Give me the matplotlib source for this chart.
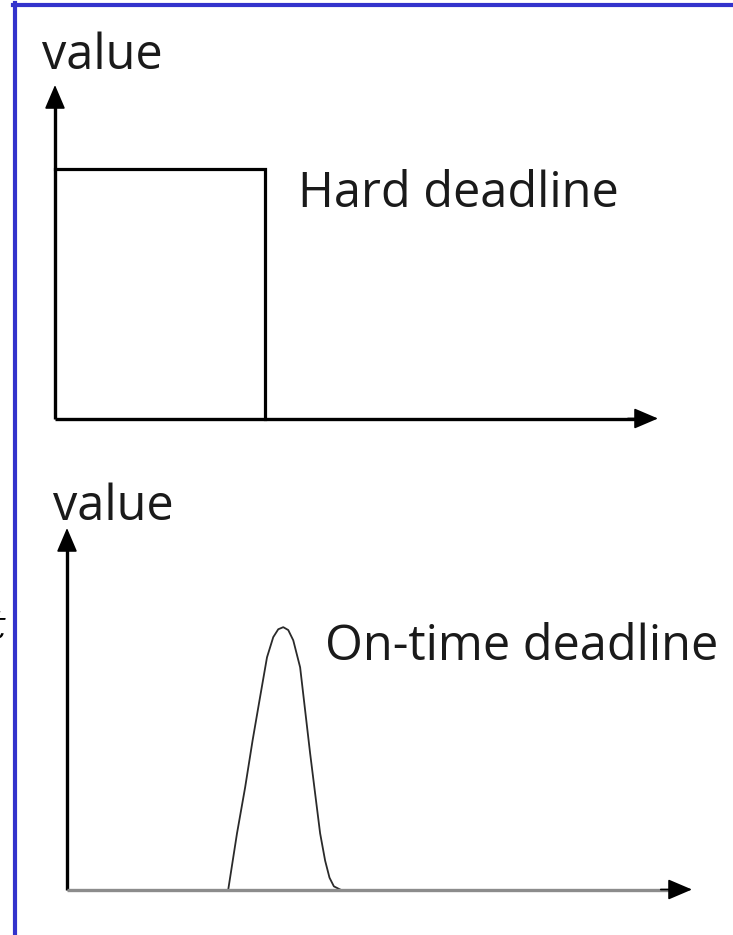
import matplotlib
matplotlib.use("Agg")
import matplotlib.pyplot as plt
from matplotlib.lines import Line2D

# hard deadline: full value until the deadline, then nothing
hard_time = [0.0, 3.48, 3.48]
hard_value = [1.0, 1.0, 0.0]

# on-time deadline: value peaks around the deadline
ontime_time = [2.58, 2.72, 2.85, 2.97, 3.08, 3.20, 3.30, 3.38, 3.46,
               3.54, 3.62, 3.73, 3.81, 3.89, 3.97, 4.05, 4.13, 4.20, 4.27, 4.37]
ontime_value = [0.0, 0.214, 0.389, 0.569, 0.721, 0.885, 0.962, 0.992, 1.0,
                0.989, 0.950, 0.847, 0.683, 0.519, 0.366, 0.214, 0.11, 0.045, 0.012, 0.0]

labels_top = ["value", "Hard deadline"]
labels_bottom = ["value", "On-time deadline"]

W, H = 733, 935
font = "Open Sans"
fsize = 35


def fx(x):
    return x / W


def fy(y):
    return (H - y) / H


fig = plt.figure(figsize=(W / 100, H / 100), dpi=100)
fig.patch.set_facecolor("white")

# blue frame on left and top
fig.add_artist(Line2D([fx(14.8), fx(14.8)], [fy(3), fy(H)], color="#3333cc", lw=3.0))
fig.add_artist(Line2D([fx(13), fx(W)], [fy(4.5), fy(4.5)], color="#3333cc", lw=3.0))


def draw_axes_arrows(ax, xcolor, ycolor, lw):
    # y axis arrow
    ax.plot([0, 0], [0, 0.96], transform=ax.transAxes, color=ycolor, lw=lw,
            solid_capstyle="butt", clip_on=False)
    ax.annotate("", xy=(0, 1), xytext=(0, 0.93), xycoords="axes fraction",
                arrowprops=dict(arrowstyle="-|>,head_length=0.75,head_width=0.32",
                                mutation_scale=20, lw=1.2, color="black",
                                shrinkA=0, shrinkB=0))
    # x axis arrow
    ax.plot([0, 0.98], [0, 0], transform=ax.transAxes, color=xcolor, lw=lw,
            solid_capstyle="butt", clip_on=False)
    ax.annotate("", xy=(1, 0), xytext=(0.95, 0), xycoords="axes fraction",
                arrowprops=dict(arrowstyle="-|>,head_length=0.75,head_width=0.32",
                                mutation_scale=20, lw=1.2, color="black",
                                shrinkA=0, shrinkB=0))


# top panel
ax1 = fig.add_axes([fx(55), fy(418.5), fx(658) - fx(55), fy(85) - fy(418.5)])
ax1.set_xlim(0, 10)
ax1.set_ylim(0, 1.334)
ax1.axis("off")
ax1.plot(hard_time, hard_value, color="black", lw=2.3, clip_on=False,
         solid_joinstyle="miter")
draw_axes_arrows(ax1, "black", "black", 2.4)

fig.text(fx(42), fy(69), labels_top[0], family=font, fontsize=fsize,
         color="#1a1a1a", ha="left", va="baseline")
fig.text(fx(298), fy(207), labels_top[1], family=font, fontsize=fsize,
         color="#1a1a1a", ha="left", va="baseline")

# bottom panel
ax2 = fig.add_axes([fx(67), fy(889.5), fx(692) - fx(67), fy(528) - fy(889.5)])
ax2.set_xlim(0, 10)
ax2.set_ylim(0, 1.378)
ax2.axis("off")
ax2.plot(ontime_time, ontime_value, color="#2a2a2a", lw=1.3, clip_on=False)
draw_axes_arrows(ax2, "#8c8c8c", "black", 2.4)

fig.text(fx(53), fy(520), labels_bottom[0], family=font, fontsize=fsize,
         color="#1a1a1a", ha="left", va="baseline")
fig.text(fx(325), fy(660), labels_bottom[1], family=font, fontsize=fsize,
         color="#1a1a1a", ha="left", va="baseline")

# glyph cut off at the left edge, as in the reference
fig.text(fx(6), fy(637), "t", family="DejaVu Serif", style="italic",
         fontsize=28, color="black", ha="right", va="baseline")

fig.savefig("out.png", dpi=100)
